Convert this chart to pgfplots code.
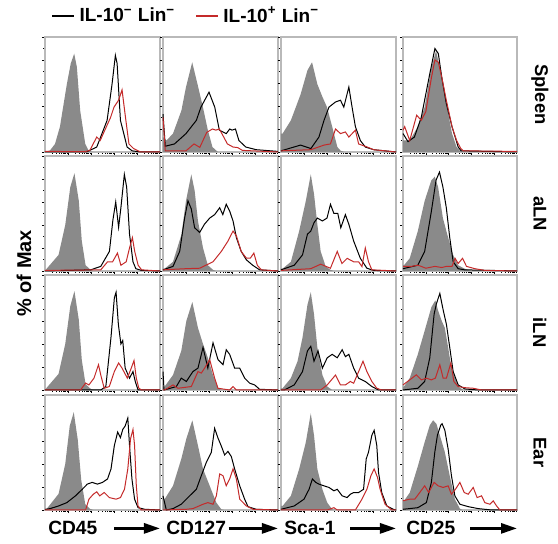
\documentclass[border=0pt]{standalone}
\usepackage{pgfplots}
\pgfplotsset{compat=1.18}
\usepackage{fontspec}
\setmainfont{Liberation Sans}
\usetikzlibrary{arrows.meta}
\definecolor{ctrlgray}{RGB}{138,138,138}
\definecolor{ilred}{RGB}{196,42,42}
\newcommand{\labfont}{\bfseries\fontsize{9.6}{11}\selectfont}
\newcommand{\rowfont}{\bfseries\fontsize{9.2}{11}\selectfont}
\pgfplotsset{
 panel/.style={scale only axis, width=57.5pt, height=57.5pt,
  xmin=0,xmax=100,ymin=0,ymax=100, anchor=north west, clip=false,
  axis line style={gray!55, line width=0.6pt},
  xtick={20,40,60,80},
  minor xtick={6.02,9.54,12.04,13.98,15.56,16.90,18.06,19.08,26.02,29.54,32.04,33.98,35.56,36.90,38.06,39.08,46.02,49.54,52.04,53.98,55.56,56.90,58.06,59.08,66.02,69.54,72.04,73.98,75.56,76.90,78.06,79.08,86.02,89.54,92.04,93.98,95.56,96.90,98.06,99.08},
  ytick={0,20,40,60,80,100}, minor y tick num=1,
  xticklabels={}, yticklabels={},
  tick align=outside, xtick pos=bottom, ytick pos=left,
  major tick length=1.6pt, minor tick length=0.8pt,
  every tick/.style={black, line width=0.3pt}},
 ctrl/.style={fill=ctrlgray, draw=none, forget plot},
 neg/.style={black, line width=0.5pt, forget plot},
 pos/.style={ilred, line width=0.5pt, forget plot},
}
\newcommand{\botlab}[2]{\node[anchor=west,font=\labfont,inner sep=0pt] at (rel axis cs:0.025,-0.16) {#1};
 \draw[-{Triangle[length=8pt,width=5pt]}, line width=1.4pt] (rel axis cs:#2,-0.16) -- (rel axis cs:1.0,-0.16);}
\newcommand{\rowlab}[1]{\node[rotate=-90,font=\rowfont] at (rel axis cs:1.2,0.5) {#1};}
\begin{document}
\begin{tikzpicture}
\useasboundingbox (0,0) rectangle (279pt,272pt);
% ---------------- Row 1: Spleen
\begin{axis}[panel, at={(22.5pt,253.5pt)},
 legend style={at={(0.0,1.18)}, anchor=west, draw=none, fill=none, legend columns=2,
  font=\bfseries\fontsize{9.5}{11}\selectfont,
  /tikz/every even column/.append style={column sep=8pt}},
 legend image code/.code={\draw[#1, line width=1.1pt] (0pt,0pt) -- (11pt,0pt);}]
\addplot[ctrl] coordinates {(0,0)(1.5,0.5)(4.4,1.4)(8.7,7)(13,22)(19,59)(22.4,77)(25.4,85.5)(27.7,74)(30.6,36)(35,7)(38,1)(42,0)} \closedcycle;
\addplot[neg] coordinates {(0,0)(36,0)(45,4.3)(54,27.5)(58.3,59)(61.2,84)(62.7,77)(65.6,27.5)(68.5,16)(71.4,4.3)(75.8,1)(83,0)(100,0)};
\addplot[pos] coordinates {(0,0.5)(35,0.3)(39,1.4)(45,13)(48,10)(52.5,20)(57,30)(60,39)(64,45)(67,54)(70,30)(73,7)(77,3)(83,0)(100,0)};
\addlegendimage{black}\addlegendentry{IL-10\textsuperscript{−} Lin\textsuperscript{−}}
\addlegendimage{ilred}\addlegendentry{IL-10\textsuperscript{+} Lin\textsuperscript{−}}
\end{axis}
\begin{axis}[panel, at={(81.5pt,253.5pt)}]
\addplot[ctrl] coordinates {(0,13)(3,10)(8.7,16)(16,36)(20,56.5)(25.4,78)(30,59)(34.7,39)(39,19)(43,4.3)(47.7,0)} \closedcycle;
\addplot[neg] coordinates {(0,33)(2,5)(10,7)(20,16)(29,27.5)(33,39)(40,52)(45,39)(49,19)(55,16)(58,20)(60,19)(63,20)(66,10)(72,4.3)(81,2)(100,0.5)};
\addplot[pos] coordinates {(0,30)(2,1)(20,1)(27,7)(32,4)(38,17)(43,20)(46,19)(49,20)(52,14.5)(56,7)(61,4.3)(65,3.8)(69,1.4)(100,0)};
\end{axis}
\begin{axis}[panel, at={(140.5pt,253.5pt)}]
\addplot[ctrl] coordinates {(0,16)(1.4,16)(8.6,27.5)(17,50)(23,71)(27,78)(31.6,59)(36,48)(40,39)(44.5,22)(49,4.3)(52,1)(55,0)} \closedcycle;
\addplot[neg] coordinates {(0,1)(17,6)(26,3)(33,13)(37.4,27.5)(41.7,39)(47.4,43.5)(51.7,45)(54.6,39)(59,56.5)(61.8,39)(64.7,22)(69,10)(73.3,4.3)(80.5,2)(100,0)};
\addplot[pos] coordinates {(0,1)(26,2)(37.4,6)(43,7)(47.4,20)(51.7,16)(56,17.4)(59,13)(64.7,19)(67.5,7)(75,4.3)(80.5,2)(100,0)};
\end{axis}
\begin{axis}[panel, width=57pt, at={(201.5pt,253.5pt)}]
\addplot[ctrl] coordinates {(0,10)(5.9,10)(13,22)(19,39)(25,74)(29,88)(34,65)(38,42)(43,16)(47,4.3)(50,1)(52,0)} \closedcycle;
\addplot[neg] coordinates {(0,16)(4.4,9)(10,13)(16,30)(23.5,68)(28,90)(31,85.5)(34,65)(38,42)(43,22)(48.4,4.3)(51,1)(100,0)};
\addplot[pos] coordinates {(0,19)(1.5,22)(5.9,10)(12,32)(16,27.5)(20,35)(25,65)(28,80)(31,78)(34,65)(38,45)(43,22)(47,10)(50.7,3)(53,1)(100,0.5)};
\rowlab{Spleen}
\end{axis}
% ---------------- Row 2: aLN
\begin{axis}[panel, at={(22.5pt,194pt)}]
\addplot[ctrl] coordinates {(0,0)(1.5,2)(11.8,14)(17.6,40)(22,73)(25.6,85)(29.4,61)(32,26)(35.3,5)(39.7,1)(42,0)} \closedcycle;
\addplot[neg] coordinates {(0,0)(39.7,1)(48.5,4)(56,17)(59,44)(61.5,60)(64,38)(66,55)(69,84)(71,73)(73.5,32)(76.5,8)(79,2)(84,0.5)(100,0)};
\addplot[pos] coordinates {(0,0.5)(48.5,1)(54.4,8)(58.8,8)(63,15.6)(66,5)(70.6,8)(73.5,20)(76,29)(78,17)(81,5)(84,1)(100,0)};
\node[rotate=90,font=\bfseries\fontsize{10}{12}\selectfont] at (rel axis cs:-0.183,-0.02) {\% of Max};
\end{axis}
\begin{axis}[panel, at={(81.5pt,194pt)}]
\addplot[ctrl] coordinates {(0,2)(1.4,2)(8.7,8)(16,31.5)(20,61)(24.6,84)(27.5,70)(30.4,43.5)(34.8,20)(39,5)(43.5,1)(46,0)} \closedcycle;
\addplot[neg] coordinates {(0,1)(8.7,4)(14.5,17)(18.8,46)(21.7,61)(24.6,54)(27.5,37.6)(31.9,33.5)(36,40.6)(40.6,46)(44.9,49)(49.3,55)(52,49)(55,58)(58,52)(60.9,43.5)(63.8,29)(68,17)(72.5,9.7)(78,5)(84,1)(100,0)};
\addplot[pos] coordinates {(0,1)(20,2)(31.9,2.4)(43.5,8)(50.7,17)(56.5,26)(60.9,34.7)(63.8,30.6)(68,17)(72.5,11.2)(76,11.2)(79,15.6)(82,5)(85.5,1)(100,0)};
\end{axis}
\begin{axis}[panel, at={(140.5pt,194pt)}]
\addplot[ctrl] coordinates {(0,2)(1.4,2)(8.6,8)(15.8,34.7)(21.6,61)(25.9,84)(28.7,67)(31.6,40.6)(34.5,17)(38.8,4)(43,1)(46,0)} \closedcycle;
\addplot[neg] coordinates {(0,1)(11.5,5)(18.7,14)(23,32)(25.9,34.7)(28.7,42)(31.6,46)(36,43.5)(40,46)(43,58)(46,50)(49.4,50)(52,37.6)(56,49)(59,40.6)(63.2,26)(69,11)(74.7,2.4)(80.5,0.5)(100,0)};
\addplot[pos] coordinates {(0,0.5)(25.9,2)(34.5,5.9)(43,2.4)(48.9,17)(53,6.5)(57.5,11)(63.2,8)(67.5,8)(70.4,3.8)(73.3,20)(76.1,8)(79,1)(100,0)};
\end{axis}
\begin{axis}[panel, width=57pt, at={(201.5pt,194pt)}]
\addplot[ctrl] coordinates {(0,5)(0.9,5)(5.9,11)(13,34.7)(19,61)(24.9,79)(27.9,82)(30.8,73)(35,46)(39.6,29)(44,14)(48.4,5)(54,2)(60,0)} \closedcycle;
\addplot[neg] coordinates {(0,2)(13,5)(19,17)(24.9,52)(29,79)(32,86)(35,73)(38,55)(41,29)(44,8)(48.4,2)(54,1)(100,0)};
\addplot[pos] coordinates {(0,4)(7.3,4)(13,5)(16,4)(20,2.4)(28,4)(34,3)(38,4)(43,4)(45.7,11)(48.4,6.5)(52.2,11)(55.7,4)(63,2)(72,0.5)(100,0)};
\rowlab{aLN}
\end{axis}
% ---------------- Row 3: iLN
\begin{axis}[panel, at={(22.5pt,134.5pt)}]
\addplot[ctrl] coordinates {(0,0)(1.5,2)(11.8,14)(17.6,40)(22,73)(25.6,86)(29.4,61)(32,26)(35.3,5)(39.7,1)(42,0)} \closedcycle;
\addplot[neg] coordinates {(0,0)(48.5,0)(52.9,3)(57.4,46)(60.3,80)(61.8,85)(63.8,57)(66,40)(67.6,43)(69.7,19)(73.5,10.3)(76.5,16)(78.5,7.4)(80.9,0)(100,0)};
\addplot[pos] coordinates {(0,0)(30.9,0)(35.3,6)(38.2,4.4)(42.6,10.3)(46.5,22)(48.5,13)(51.5,1.5)(55.9,3)(60.3,16)(64,23.5)(67,19)(71.6,10.3)(75,19)(77.4,25.6)(79.4,10.3)(81.6,1.5)(84,0)(100,0)};
\end{axis}
\begin{axis}[panel, at={(81.5pt,134.5pt)}]
\addplot[ctrl] coordinates {(0,3)(1.4,3)(8.7,13)(15.9,34)(20.3,60)(25.5,76.5)(30.4,54)(34.8,40)(39,28)(43.5,13)(47.8,1.5)(50.7,0)} \closedcycle;
\addplot[neg] coordinates {(0,16)(0.9,0)(11.6,3)(15.9,10.3)(20.3,7.4)(26,16)(30.4,19)(34.8,37)(39,19)(43.5,41)(47.8,26.5)(52.2,22)(55,35)(58,30.9)(62.3,19)(66.7,19)(71,10.3)(75.4,5.9)(79.7,4.4)(84,0.6)(100,0)};
\addplot[pos] coordinates {(0,0)(1.4,0)(8.7,4.4)(13,1.5)(24.6,3)(30.4,16)(33.3,14.7)(36.2,19)(40.6,26.5)(44.9,10.3)(47.8,1.5)(57.9,0)(60.9,3)(63.8,0)(100,0)};
\end{axis}
\begin{axis}[panel, at={(140.5pt,134.5pt)}]
\addplot[ctrl] coordinates {(0,1.5)(1.4,1.5)(8.6,10.3)(14.4,25)(18.7,45.6)(23,74)(25.9,85)(28.7,66)(31.6,37)(36,13)(40.2,3)(44.5,0)} \closedcycle;
\addplot[neg] coordinates {(0,0)(2.9,0)(11.5,4.4)(18.7,16)(23,34)(25.9,38)(28.7,25)(32.2,34)(36,19)(40.2,28)(44.5,31)(48.9,28)(53.2,35)(56,29)(59,31)(63.2,19)(67.5,10.3)(73.3,7.4)(79,3)(84.8,0)(100,0)};
\addplot[pos] coordinates {(0,0)(34.5,0)(40.2,4.4)(47.4,13)(51.7,4.4)(56,4.4)(60.3,7.4)(63.2,5.9)(67.5,16)(71.3,25)(74.7,16)(79,7.4)(83.3,1.5)(87.6,0)(100,0)};
\end{axis}
\begin{axis}[panel, width=57pt, at={(201.5pt,134.5pt)}]
\addplot[ctrl] coordinates {(0,3)(0.9,3)(5.9,10.3)(13,31)(19,51.5)(24.9,72)(28.4,78)(30.8,69)(34,60)(36.7,54)(39.6,37)(42.5,19)(48.4,3)(52.8,0)} \closedcycle;
\addplot[neg] coordinates {(0,0)(13,1.5)(19,7.4)(23.5,28)(27.3,66)(29.3,75)(32.3,84)(35.2,69.7)(38.1,57)(41,37)(44,16)(48.4,4.4)(54.3,0.9)(66,0)(100,0)};
\addplot[pos] coordinates {(0,4.4)(5.9,8.8)(11.7,13.2)(16.1,8.8)(20.5,10.3)(24.9,8.8)(28.4,10.3)(32.3,22)(35.2,10.3)(38.1,10.3)(42,23.5)(44.6,7.4)(48.4,3)(54.3,2)(61.6,1.5)(69,0)(100,0)};
\rowlab{iLN}
\end{axis}
% ---------------- Row 4: Ear
\begin{axis}[panel, at={(22.5pt,74.5pt)}]
\addplot[ctrl] coordinates {(0,0)(1.5,1)(11.8,14)(17.6,40)(21.5,73)(25,85)(28.5,61)(31.5,26)(35,5)(39,1)(42,0)} \closedcycle;
\addplot[neg] coordinates {(0,0.5)(4.4,1.2)(11.8,3.5)(19,6.4)(26.5,12.3)(32.4,18)(36.8,22.5)(41,24)(45.6,22.5)(50,24)(54.4,27)(57.4,35.7)(60.3,56)(63.2,67.8)(65.6,63)(67.6,70)(69.7,73)(72,80)(73.5,56)(75.6,27)(77.9,9.4)(80.9,2)(86.8,0.6)(100,0)};
\addplot[pos] coordinates {(0,0)(35.3,0)(38.2,9.4)(42,13.7)(45,15.8)(47.6,12.3)(51.5,15.2)(55.9,10.8)(61.8,9.4)(65.6,10.8)(69.1,18)(72,35.7)(74.4,62)(76.5,70)(77.9,56)(79.4,21)(80.9,3.5)(83.8,0)(100,0)};
\botlab{CD45}{0.6}
\end{axis}
\begin{axis}[panel, at={(81.5pt,74.5pt)}]
\addplot[ctrl] coordinates {(0,9.4)(1.4,9.4)(8.7,21)(15.9,44.4)(20.3,62)(25.5,78)(30.4,56)(34.8,35.7)(40.6,21)(46.4,6.4)(50.7,0.6)(53,0)} \closedcycle;
\addplot[neg] coordinates {(0,12.3)(2.9,0)(8.7,1.2)(15.9,5)(23.2,12.3)(29,18)(33.3,29.8)(37.7,41.5)(42,50)(44.9,71)(47.8,62.6)(50.7,55.6)(53.6,47.9)(56.5,50.9)(59.4,46.5)(62.3,35.7)(66.7,21)(71,9.4)(73.9,2.9)(81,0.6)(100,0)};
\addplot[pos] coordinates {(0,0)(20.3,0.6)(26,1.2)(34.8,5)(39,6.4)(43.5,5)(46.4,12.3)(49.3,31.3)(52.2,29.8)(55,21)(58,27)(60.9,35.7)(63.8,27)(66.7,9.4)(72.5,3.5)(78.3,0.6)(100,0)};
\botlab{CD127}{0.57}
\end{axis}
\begin{axis}[panel, at={(140.5pt,74.5pt)}]
\addplot[ctrl] coordinates {(0,3.5)(1.4,3.5)(8.6,12.3)(15.8,35.7)(21.6,59)(25.9,84)(28.7,65)(31.6,35.7)(36,18)(40.2,6.4)(44.5,0.6)(47,0)} \closedcycle;
\addplot[neg] coordinates {(0,0.6)(11.5,3.5)(20,9.4)(24.4,18)(27.3,27)(30.2,24)(33,22.5)(37.4,21)(41.7,19.6)(46,16.7)(48.9,18)(53.2,12.3)(57.5,10.8)(60.3,13.7)(63.2,15.2)(67.5,15.2)(71.8,18)(74.1,44.4)(76.1,50.3)(79,65)(81,69.3)(83.3,56)(84.8,32.7)(87.6,15.2)(92,3.5)(97.7,0.6)(100,0)};
\addplot[pos] coordinates {(0,0)(40.2,0)(46,2)(48.9,0)(64.7,0)(70.4,9.4)(74.7,18)(78.2,29.8)(81,35.7)(83.9,28.4)(86.2,18)(90.5,5)(96.3,0)(100,0)};
\botlab{Sca-1}{0.6}
\end{axis}
\begin{axis}[panel, width=57pt, at={(201.5pt,74.5pt)}]
\addplot[ctrl] coordinates {(0,8)(0.9,8)(5.9,15)(13,38)(19,59)(23.5,73.7)(26.4,78)(29.3,75)(32.3,65)(36.7,50.3)(41,29.8)(45.5,9.4)(49.9,1.2)(52,0)} \closedcycle;
\addplot[neg] coordinates {(0,0.6)(13,2)(20.5,6.4)(24.9,24)(27.9,50.3)(30.2,65)(33.1,73.7)(34.3,75)(36.7,69.3)(39.6,53)(42.5,29.8)(45.5,12.3)(49.9,5)(57.2,2.9)(66,1.2)(77.7,0)(100,0)};
\addplot[pos] coordinates {(0,8)(5.9,9.4)(10.3,9.4)(14.7,15.2)(19,21)(22.5,15.2)(27.3,24)(30.8,21)(35.2,19.6)(39.6,21)(42.5,13.7)(46,18)(49.9,24)(53.7,15.2)(57.2,13.7)(61.6,19.6)(65,10.8)(68.9,12.3)(71.8,6.4)(76.2,5)(79.2,7.9)(82.1,3.5)(85,0)(100,0)};
\botlab{CD25}{0.59}
\rowlab{Ear}
\end{axis}
\end{tikzpicture}
\end{document}
